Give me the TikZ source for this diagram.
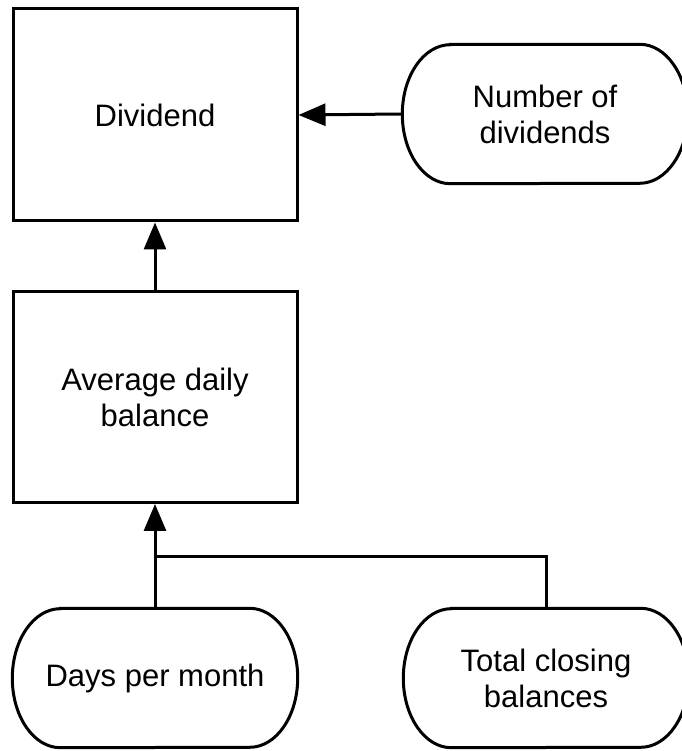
\documentclass[tikz,border=0pt]{standalone}
\usepackage{fontspec}
\setmainfont{Liberation Sans}
\usetikzlibrary{arrows.meta}
\begin{document}
\begin{tikzpicture}[x=1pt,y=1pt,
  txt/.style={font=\fontsize{31}{36}\selectfont, align=center, inner sep=0pt},
  boxnode/.style={txt, draw, line width=3pt, minimum width=284pt},
  stad/.style={txt, draw=none, minimum width=285pt, minimum height=139pt},
  arr/.style={line width=3pt, -{Triangle[length=27pt,width=22pt]}},
  conn/.style={line width=3pt}]
\useasboundingbox (0,0) rectangle (681,751);
\node[boxnode, minimum height=212pt] (div) at (155,636) {Dividend};
\node[stad] (num) at (545,637) {Number of\\dividends};
\node[boxnode, minimum height=211pt] (avg) at (155,354) {Average daily\\balance};
\node[stad] (days) at (155,73) {Days per month};
\node[stad] (total) at (546,73) {Total closing\\balances};
\coordinate (j) at (155,194);
\foreach \n in {num,days,total}{
  \draw[line width=3pt] ([xshift=48pt]\n.north west) -- ([xshift=-48pt]\n.north east)
    arc[start angle=90, end angle=-90, x radius=48pt, y radius=69.5pt]
    -- ([xshift=48pt]\n.south west)
    arc[start angle=270, end angle=90, x radius=48pt, y radius=69.5pt] -- cycle;
}
\draw[arr] (num.west) -- (div.east);
\draw[arr] (avg.north) -- (div.south);
\draw[arr] (days.north) -- (avg.south);
\draw[conn] (total.north) |- (j);
\end{tikzpicture}
\end{document}
